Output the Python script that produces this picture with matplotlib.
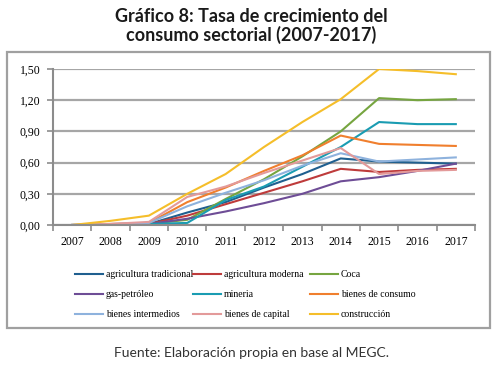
import matplotlib
matplotlib.use("Agg")
import matplotlib.pyplot as plt
from matplotlib.patches import Rectangle


years = ["2007", "2008", "2009", "2010", "2011", "2012",
         "2013", "2014", "2015", "2016", "2017"]

agricultura_tradicional = [0.00, 0.00, 0.01, 0.12, 0.22, 0.36, 0.49, 0.64, 0.61, 0.60, 0.59]
agricultura_moderna = [0.00, 0.00, 0.01, 0.09, 0.20, 0.31, 0.42, 0.54, 0.51, 0.53, 0.54]
coca = [0.00, 0.00, 0.01, 0.05, 0.25, 0.44, 0.66, 0.90, 1.22, 1.20, 1.21]
gas_petroleo = [0.00, 0.00, 0.01, 0.06, 0.13, 0.21, 0.30, 0.42, 0.46, 0.52, 0.59]
mineria = [0.00, 0.00, 0.01, 0.02, 0.24, 0.37, 0.56, 0.75, 0.99, 0.97, 0.97]
bienes_consumo = [0.00, 0.01, 0.02, 0.22, 0.36, 0.52, 0.67, 0.86, 0.78, 0.77, 0.76]
bienes_intermedios = [0.00, 0.01, 0.02, 0.18, 0.31, 0.43, 0.57, 0.69, 0.61, 0.63, 0.65]
bienes_capital = [0.00, 0.01, 0.03, 0.27, 0.37, 0.50, 0.62, 0.74, 0.49, 0.52, 0.53]
construccion = [0.00, 0.04, 0.09, 0.30, 0.49, 0.75, 0.99, 1.21, 1.50, 1.48, 1.45]

y_ticks = [0.0, 0.3, 0.6, 0.9, 1.2, 1.5]
y_labels = ["0,00", "0,30", "0,60", "0,90", "1,20", "1,50"]

series = [
    ("agricultura tradicional", agricultura_tradicional, "#1F5F8F"),
    ("agricultura moderna", agricultura_moderna, "#BE3B3B"),
    ("Coca", coca, "#76A540"),
    ("gas-petróleo", gas_petroleo, "#6E4D96"),
    ("mineria", mineria, "#1A9CB2"),
    ("bienes de consumo", bienes_consumo, "#F07F2E"),
    ("bienes intermedios", bienes_intermedios, "#8EB2DD"),
    ("bienes de capital", bienes_capital, "#E39A9A"),
    ("construcción", construccion, "#F5BE2A"),
]

serif = "Liberation Serif"
sans = "Lato"

fig = plt.figure(figsize=(5.03, 3.67), dpi=100)

# chart frame
fig.patches.append(Rectangle((7 / 503, 39 / 367), 483 / 503, 276 / 367,
                             transform=fig.transFigure, fill=False,
                             edgecolor="#A0A0A0", linewidth=1.6))

ax = fig.add_axes([53 / 503, 142 / 367, 422 / 503, 156 / 367])

x = list(range(len(years)))
handles = []
for name, vals, color in series:
    line, = ax.plot(x, vals, color=color, linewidth=1.5, label=name)
    handles.append(line)

ax.set_xlim(-0.5, len(years) - 0.5)
ax.set_ylim(0, 1.5)

ax.set_yticks(y_ticks)
ax.set_yticklabels(y_labels, fontfamily=serif, fontsize=8.5)
ax.set_xticks(x)
ax.set_xticklabels(years, fontfamily=serif, fontsize=8.5)
ax.set_xticks([i - 0.5 for i in range(len(years) + 1)], minor=True)
ax.tick_params(axis="x", which="major", length=0, pad=8)
ax.tick_params(axis="x", which="minor", length=4, width=1.2, color="#8C8C8C")
ax.tick_params(axis="y", length=4, width=1.2, color="#8C8C8C", pad=5)

ax.grid(axis="y", color="#A6A6A6", linewidth=1.6)
ax.set_axisbelow(True)
for side in ["top", "right"]:
    ax.spines[side].set_visible(False)
for side in ["left", "bottom"]:
    ax.spines[side].set_color("#8C8C8C")
    ax.spines[side].set_linewidth(1.5)

# legend in three columns, filled row by row
col_x = [75 / 503, 193 / 503, 310 / 503]
for c in range(3):
    hs = [handles[c], handles[c + 3], handles[c + 6]]
    fig.legend(handles=hs, loc="upper left", bbox_to_anchor=(col_x[c], 97 / 367),
               frameon=False, prop={"family": serif, "size": 7},
               handlelength=2.9, handletextpad=0.25, labelspacing=1.15,
               borderaxespad=0, borderpad=0)

fig.text(0.5, 1 - 16 / 367, "Gráfico 8: Tasa de crecimiento del",
         ha="center", va="center", fontfamily=sans, fontweight="bold",
         fontsize=13, color="#1A1A1A")
fig.text(0.5, 1 - 35 / 367, "consumo sectorial (2007-2017)",
         ha="center", va="center", fontfamily=sans, fontweight="bold",
         fontsize=13, color="#1A1A1A")

fig.text(0.5, 1 - 353 / 367, "Fuente: Elaboración propia en base al MEGC.",
         ha="center", va="center", fontfamily=sans, fontsize=10, color="#333333")

fig.savefig("out.png", dpi=100)
